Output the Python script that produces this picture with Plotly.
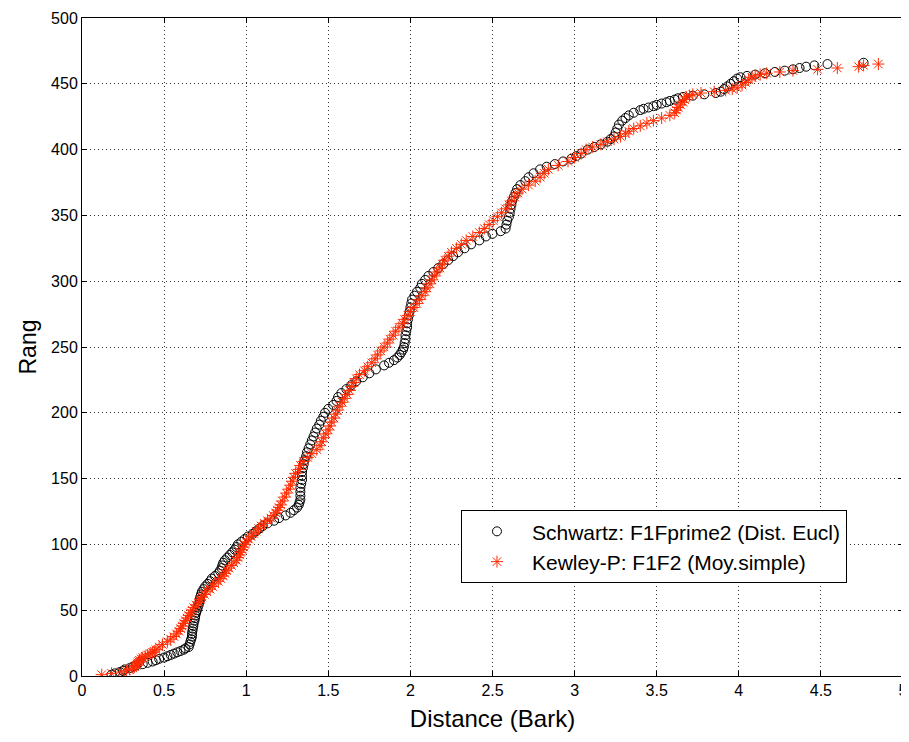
import plotly.graph_objects as go

# Schwartz: F1Fprime2 (Dist. Eucl) -- rank vs distance (Bark)
schwartz_rank = [1,2,3,4,5,6,7,8,9,10,11,12,13,14,15,16,17,18,19,20,21,22,24,26,28,30,32,34,36,38,40,42,44,46,48,50,52,54,56,58,60,62,64,66,68,70,72,74,76,78,80,82,84,86,88,90,92,94,96,98,100,102,104,106,108,110,112,114,116,118,120,122,124,126,128,130,132,134,137,140,143,146,149,152,155,158,161,164,167,170,173,176,179,182,185,188,191,194,197,200,203,206,209,212,215,218,221,224,227,230,233,236,238,240,242,244,246,248,250,253,256,259,262,265,268,271,274,277,280,283,286,289,292,295,298,301,304,307,310,313,316,319,322,325,328,331,334,336,338,340,343,346,349,352,355,358,361,364,367,370,373,376,379,382,385,387,389,391,393,395,397,400,402,404,406,408,410,413,416,419,422,424,426,428,430,431,432,433,434,435,436,437,438,439,440,441,442,443,444,446,448,450,452,454,455,456,457,458,459,460,461,462,463,464,465,466]
schwartz_dist = [0.18,0.20,0.23,0.25,0.26,0.29,0.31,0.33,0.37,0.40,0.43,0.45,0.47,0.50,0.52,0.54,0.56,0.58,0.60,0.62,0.63,0.65,0.655,0.66,0.665,0.67,0.67,0.672,0.675,0.678,0.68,0.685,0.688,0.69,0.695,0.70,0.705,0.71,0.715,0.718,0.72,0.725,0.73,0.74,0.75,0.765,0.78,0.79,0.81,0.83,0.84,0.85,0.855,0.86,0.87,0.885,0.90,0.915,0.93,0.94,0.95,0.97,0.99,1.01,1.04,1.06,1.08,1.10,1.13,1.17,1.20,1.24,1.27,1.29,1.31,1.32,1.325,1.33,1.33,1.33,1.33,1.335,1.34,1.34,1.34,1.345,1.35,1.355,1.365,1.37,1.38,1.39,1.40,1.41,1.42,1.43,1.445,1.455,1.47,1.48,1.50,1.53,1.55,1.56,1.58,1.61,1.64,1.67,1.71,1.75,1.79,1.84,1.87,1.90,1.92,1.935,1.945,1.955,1.96,1.965,1.97,1.97,1.975,1.98,1.98,1.985,1.99,1.995,2.00,2.005,2.01,2.025,2.04,2.06,2.07,2.09,2.11,2.14,2.17,2.20,2.23,2.26,2.29,2.33,2.37,2.42,2.46,2.50,2.55,2.58,2.585,2.59,2.60,2.605,2.61,2.615,2.62,2.63,2.64,2.65,2.67,2.70,2.72,2.75,2.79,2.83,2.88,2.93,2.98,3.01,3.04,3.08,3.12,3.16,3.20,3.22,3.24,3.25,3.26,3.27,3.29,3.31,3.33,3.36,3.40,3.42,3.45,3.48,3.50,3.53,3.56,3.58,3.61,3.63,3.66,3.72,3.79,3.86,3.89,3.91,3.93,3.95,3.97,3.99,4.01,4.05,4.10,4.16,4.22,4.28,4.33,4.37,4.41,4.46,4.54,4.76]

# Kewley-P: F1F2 (Moy.simple)
kewley_rank = [1,2,3,4,5,6,7,8,9,10,11,12,13,14,15,16,17,18,19,20,22,24,26,28,30,32,34,36,38,40,42,44,46,48,50,52,54,56,58,60,62,64,66,68,70,72,74,76,78,80,82,84,86,88,90,92,94,96,98,100,102,104,106,108,110,112,114,116,118,120,122,124,126,128,130,133,136,139,142,145,148,151,154,157,160,163,166,169,172,175,178,181,184,187,190,193,196,199,202,205,208,211,214,217,220,223,226,229,232,235,238,241,244,247,250,253,256,259,262,265,268,271,274,277,280,283,286,289,292,295,298,301,304,307,310,313,316,319,322,325,328,331,334,337,340,343,346,349,352,355,358,361,364,367,370,373,376,379,382,385,388,391,394,397,400,402,404,406,408,410,412,414,416,418,420,422,424,426,428,430,432,434,436,438,440,441,442,443,444,445,446,447,449,451,453,455,456,457,458,459,460,461,462,463,464,465]
kewley_dist = [0.12,0.18,0.24,0.27,0.29,0.31,0.32,0.33,0.335,0.34,0.345,0.35,0.36,0.37,0.385,0.40,0.415,0.43,0.44,0.45,0.47,0.49,0.52,0.54,0.56,0.575,0.59,0.60,0.61,0.62,0.63,0.64,0.65,0.66,0.67,0.68,0.695,0.71,0.72,0.73,0.745,0.76,0.78,0.795,0.81,0.83,0.845,0.86,0.87,0.88,0.895,0.91,0.925,0.94,0.95,0.96,0.965,0.975,0.985,0.99,1.00,1.015,1.03,1.045,1.06,1.075,1.09,1.11,1.13,1.15,1.165,1.18,1.19,1.20,1.21,1.22,1.235,1.245,1.26,1.27,1.28,1.29,1.30,1.32,1.33,1.35,1.375,1.40,1.43,1.45,1.46,1.47,1.485,1.50,1.51,1.52,1.535,1.545,1.555,1.57,1.585,1.60,1.615,1.63,1.64,1.655,1.67,1.69,1.72,1.74,1.765,1.785,1.80,1.82,1.84,1.86,1.875,1.895,1.91,1.93,1.95,1.965,1.985,2.00,2.02,2.04,2.055,2.07,2.09,2.10,2.12,2.13,2.145,2.16,2.18,2.195,2.21,2.23,2.25,2.28,2.31,2.34,2.38,2.42,2.45,2.48,2.505,2.53,2.555,2.58,2.60,2.615,2.635,2.655,2.68,2.72,2.76,2.79,2.815,2.84,2.90,2.96,3.00,3.04,3.07,3.11,3.16,3.20,3.24,3.28,3.31,3.33,3.36,3.40,3.44,3.48,3.53,3.58,3.61,3.62,3.63,3.645,3.66,3.67,3.68,3.70,3.72,3.77,3.85,3.92,3.96,3.99,4.02,4.04,4.06,4.08,4.10,4.13,4.17,4.25,4.33,4.48,4.60,4.73,4.76,4.85]

x_ticks = [0, 0.5, 1, 1.5, 2, 2.5, 3, 3.5, 4, 4.5, 5]
x_tick_labels = ["0", "0.5", "1", "1.5", "2", "2.5", "3", "3.5", "4", "4.5", "5"]
y_ticks = [0, 50, 100, 150, 200, 250, 300, 350, 400, 450, 500]

RED = "#ff2a00"
FONT = "Liberation Sans, Arial, sans-serif"

fig = go.Figure()
fig.add_trace(go.Scatter(
    x=schwartz_dist, y=schwartz_rank, mode="markers",
    name="Schwartz: F1Fprime2 (Dist. Eucl)",
    marker=dict(symbol="circle-open", size=9, color="black", line=dict(width=1, color="black")),
))
fig.add_trace(go.Scatter(
    x=kewley_dist, y=kewley_rank, mode="markers",
    name="Kewley-P: F1F2 (Moy.simple)",
    marker=dict(symbol="asterisk-open", size=10, color=RED, line=dict(width=1, color=RED)),
))

axis_common = dict(
    showline=True, linecolor="black", linewidth=1, mirror="allticks",
    ticks="inside", ticklen=5, tickcolor="black", automargin=False,
    showgrid=True, gridcolor="#333333", griddash="1px,3px", gridwidth=1,
    zeroline=False, tickfont=dict(family=FONT, size=16, color="black"),
)

# page body has an 8px margin, so the figure is offset by (8, 8) in the window
fig.update_layout(
    width=901, height=734,
    paper_bgcolor="white", plot_bgcolor="white",
    margin=dict(l=74, r=6, t=10, b=66),
    font=dict(family=FONT, color="black"),
    xaxis=dict(range=[0, 5], tickvals=x_ticks, ticktext=x_tick_labels,
               title=dict(text="Distance (Bark)", font=dict(family=FONT, size=24), standoff=11),
               **axis_common),
    yaxis=dict(range=[0, 500], tickvals=y_ticks,
               title=dict(text="Rang", font=dict(family=FONT, size=23), standoff=8),
               **axis_common),
    legend=dict(x=0.4616, y=0.252, xanchor="left", yanchor="top",
                bgcolor="white", bordercolor="black", borderwidth=1,
                font=dict(family=FONT, size=21, color="black"),
                itemwidth=60, tracegroupgap=0,
                entrywidth=380, entrywidthmode="pixels"),
    showlegend=True,
)

fig.write_html("out.html")
